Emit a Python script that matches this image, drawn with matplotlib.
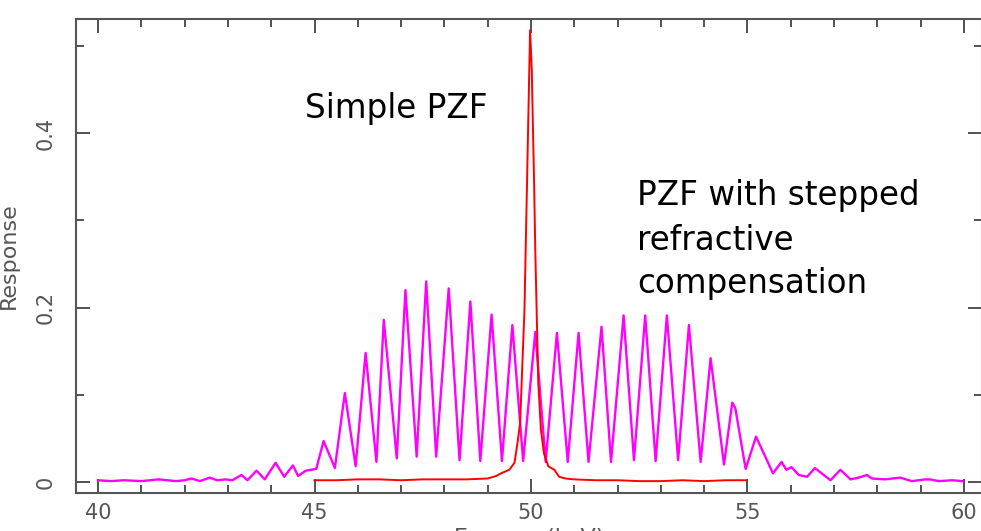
import matplotlib
matplotlib.use('Agg')
import matplotlib.pyplot as plt
from matplotlib.ticker import MultipleLocator

# stepped refractive compensation PZF response (magenta)
stepped_kev = [40.0, 40.3, 40.6, 41.0, 41.4, 41.8, 42.0, 42.16, 42.35, 42.58,
               42.75, 42.95, 43.1, 43.31, 43.45, 43.66, 43.85, 44.1, 44.3, 44.5,
               44.62, 44.8, 45.04, 45.21, 45.47, 45.70, 45.95, 46.18, 46.43, 46.6,
               46.9, 47.1, 47.36, 47.58, 47.81, 48.1, 48.35, 48.6, 48.83, 49.09,
               49.33, 49.57, 49.82, 50.1, 50.34, 50.6, 50.85, 51.1, 51.33, 51.63,
               51.85, 52.14, 52.38, 52.64, 52.88, 53.14, 53.4, 53.65, 53.92, 54.15,
               54.46, 54.65, 54.72, 54.96, 55.2, 55.59, 55.79, 55.9, 56.02, 56.19,
               56.38, 56.56, 56.92, 57.15, 57.38, 57.57, 57.76, 57.88, 58.18, 58.53,
               58.8, 59.11, 59.22, 59.42, 59.73, 59.96]
stepped_resp = [0.002, 0.001, 0.002, 0.001, 0.003, 0.001, 0.002, 0.004, 0.001, 0.005,
                0.002, 0.003, 0.002, 0.008, 0.002, 0.013, 0.003, 0.022, 0.006, 0.019,
                0.007, 0.013, 0.015, 0.047, 0.016, 0.102, 0.018, 0.148, 0.023, 0.186,
                0.027, 0.220, 0.029, 0.230, 0.029, 0.222, 0.025, 0.207, 0.024, 0.192,
                0.024, 0.180, 0.024, 0.172, 0.023, 0.171, 0.023, 0.171, 0.023, 0.178,
                0.023, 0.191, 0.025, 0.191, 0.024, 0.191, 0.025, 0.180, 0.023, 0.142,
                0.020, 0.091, 0.085, 0.015, 0.052, 0.010, 0.023, 0.014, 0.017, 0.008,
                0.006, 0.016, 0.002, 0.014, 0.003, 0.005, 0.008, 0.004, 0.003, 0.005,
                0.001, 0.003, 0.003, 0.001, 0.002, 0.001]

# simple PZF response (red)
simple_kev = [45.0, 45.5, 46.0, 46.5, 47.0, 47.5, 48.0, 48.5, 49.0, 49.2,
              49.31, 49.5, 49.62, 49.69, 49.75, 49.79, 49.85, 49.9, 49.94, 49.98,
              50.02, 50.04, 50.07, 50.1, 50.13, 50.17, 50.23, 50.3, 50.4, 50.54,
              50.65, 50.8, 51.0, 51.5, 52.0, 52.5, 53.0, 53.5, 54.0, 54.5, 54.96]
simple_resp = [0.002, 0.002, 0.003, 0.003, 0.002, 0.003, 0.003, 0.003, 0.004, 0.007,
               0.010, 0.014, 0.022, 0.045, 0.068, 0.120, 0.197, 0.320, 0.420, 0.518,
               0.472, 0.420, 0.350, 0.266, 0.200, 0.113, 0.060, 0.033, 0.018, 0.014,
               0.006, 0.004, 0.003, 0.002, 0.002, 0.001, 0.001, 0.002, 0.001, 0.002,
               0.002]

xticks = [40, 45, 50, 55, 60]
xticklabels = ['40', '45', '50', '55', '60']
yticks = [0, 0.2, 0.4]
yticklabels = ['0', '0.2', '0.4']

fig = plt.figure(figsize=(9.81, 5.31), dpi=100)
ax = fig.add_axes([0.0775, 0.0716, 0.9235, 0.8927])

ax.plot(stepped_kev, stepped_resp, color='#ff00ff', lw=1.7)
ax.plot(simple_kev, simple_resp, color='#ff0000', lw=1.4)

ax.set_xlim(39.49, 60.42)
ax.set_ylim(-0.0126, 0.531)

#
# PGPLOT-ish frame: ticks inside, on all four sides
#
for s in ax.spines.values():
    s.set_color('#555555')
    s.set_linewidth(1.5)
ax.set_xticks(xticks)
ax.set_xticklabels(xticklabels)
ax.set_yticks(yticks)
ax.set_yticklabels(yticklabels, rotation=90, va='center')
ax.xaxis.set_minor_locator(MultipleLocator(1))
ax.yaxis.set_minor_locator(MultipleLocator(0.1))
ax.tick_params(which='both', direction='in', top=True, right=True,
               color='#333333', width=1.2, labelcolor='#555555')
ax.tick_params(which='major', length=10, labelsize=15)
ax.tick_params(which='minor', length=6)
ax.tick_params(axis='x', pad=7)
ax.tick_params(axis='y', pad=15)

ax.set_xlabel('Energy  (keV)', fontsize=16, color='#555555', labelpad=4)
ax.set_ylabel('Response', fontsize=16, color='#555555', labelpad=12)

ax.text(44.77, 0.417, 'Simple PZF', fontsize=23.5, ha='left', va='baseline')
ax.text(52.45, 0.3175, 'PZF with stepped', fontsize=23.5, ha='left', va='baseline')
ax.text(52.45, 0.266, 'refractive', fontsize=23.5, ha='left', va='baseline')
ax.text(52.45, 0.2166, 'compensation', fontsize=23.5, ha='left', va='baseline')

plt.savefig('out.png', dpi=100)
plt.close()
